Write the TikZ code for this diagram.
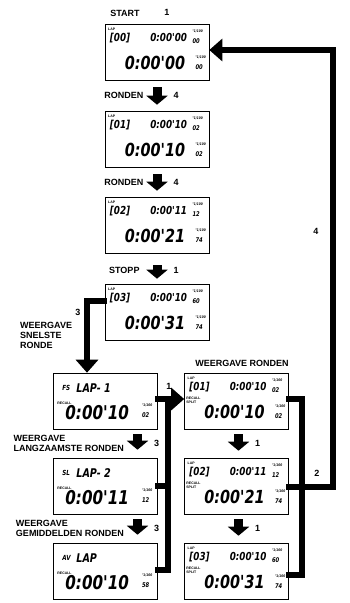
\documentclass[tikz,border=0pt]{standalone}
\usepackage{fontspec}
\setmainfont{Liberation Sans}
\newfontfamily\lcdfont{DejaVu Sans}[FakeStretch=0.8]
\usepackage{tikz}
\usetikzlibrary{arrows.meta,calc}

% hundredths: "1/100 over two digits
\newcommand{\hund}[1]{\shortstack[l]{\fontsize{3.5}{3.5}\selectfont "1/100\\[2pt]\fontsize{6.5}{6.5}\selectfont #1}}

% lap display: name, centre, lap, small time, small hund, big time, big hund, extra
\newcommand{\lapdisplay}[8]{%
\node[lcd] (#1) at #2 {};
\node[tiny] (#1-lap) at ([xshift=7pt,yshift=-6pt]#1.north west) {LAP};
\node[lcdsmall,anchor=west] (#1-no) at ([xshift=5pt,yshift=-14pt]#1.north west) {[#3]};
\node[lcdsmall,anchor=east] (#1-time) at ([xshift=-22pt,yshift=-14pt]#1.north east) {#4};
\node[anchor=west,inner sep=0pt] (#1-hund) at ([xshift=-17pt,yshift=-13pt]#1.north east) {\lcdfont\bfseries\itshape\hund{#5}};
#8
\node[lcdbig,anchor=east] (#1-big) at ([xshift=-24pt,yshift=-39pt]#1.north east) {#6};
\node[anchor=west,inner sep=0pt] (#1-bhund) at ([xshift=-14pt,yshift=-39pt]#1.north east) {\lcdfont\bfseries\itshape\hund{#7}};
}

% memory display: name, centre, code, lap text, big time, big hund
\newcommand{\memdisplay}[6]{%
\node[lcd] (#1) at #2 {};
\node[lcdfont=7,anchor=west] (#1-code) at ([xshift=9pt,yshift=-15pt]#1.north west) {#3};
\node[lcdfont=12,anchor=west] (#1-lap) at ([xshift=23pt,yshift=-15pt]#1.north west) {#4};
\node[tiny,anchor=west] (#1-rc) at ([xshift=4pt,yshift=-31pt]#1.north west) {RECALL};
\node[lcdfont=19,anchor=west] (#1-big) at ([xshift=12pt,yshift=-40pt]#1.north west) {#5};
\node[anchor=west,inner sep=0pt] (#1-bhund) at ([xshift=-16pt,yshift=-38pt]#1.north east) {\lcdfont\bfseries\itshape\hund{#6}};
}

\begin{document}
\begin{tikzpicture}[x=1pt,y=-1pt,
  lcd/.style={draw,line width=0.6pt,minimum width=104pt,minimum height=56pt,inner sep=0pt},
  lcdfont/.style={inner sep=0pt,font=\lcdfont\bfseries\itshape\fontsize{#1}{#1}\selectfont},
  lcdsmall/.style={lcdfont=11},
  lcdbig/.style={lcdfont=18},
  tiny/.style={inner sep=0pt,font=\bfseries\fontsize{3.5}{3.5}\selectfont},
  lbl/.style={inner sep=0pt,font=\bfseries\fontsize{9}{10}\selectfont,align=left},
  blockarrow/.style={line width=9pt,-{Triangle[length=9pt,width=21pt]},shorten <=7pt,shorten >=6pt},
  fat/.style={line width=5.5pt,line cap=rect},
  fatarrow/.style={line width=5.5pt,-{Triangle[length=13pt,width=22pt]}}]
\useasboundingbox (0,0) rectangle (350,603);

% left column
\lapdisplay{m0}{(157,52)}{00}{0:00'00}{00}{0:00'00}{00}{}
\lapdisplay{m1}{(157,139)}{01}{0:00'10}{02}{0:00'10}{02}{}
\lapdisplay{m2}{(157,225)}{02}{0:00'11}{12}{0:00'21}{74}{}
\lapdisplay{m3}{(157,312)}{03}{0:00'10}{60}{0:00'31}{74}{}

\node[lbl] (start) at (125,13) {START};
\node[lbl] (start-n) at (167,12) {1};

\draw[blockarrow] (m0.south) -- node[lbl,left=9pt] (t1) {RONDEN} node[lbl,right=12pt] (n1) {4} (m1.north);
\draw[blockarrow] (m1.south) -- node[lbl,left=9pt] (t2) {RONDEN} node[lbl,right=12pt] (n2) {4} (m2.north);
\draw[blockarrow,shorten <=12pt,shorten >=5pt] (m2.south) -- node[lbl,left=13pt,yshift=-2pt] (t3) {STOPP} node[lbl,right=12pt,yshift=-2pt] (n3) {1} (m3.north);

% memory displays
\memdisplay{f1}{(105.5,401)}{FS}{LAP- 1}{0:00'10}{02}
\memdisplay{f2}{(105.5,486)}{SL}{LAP- 2}{0:00'11}{12}
\memdisplay{f3}{(105.5,571)}{AV}{LAP}{0:00'10}{58}

\coordinate (b1) at (87,301);
\draw[fat] (m3.west |- b1) -- (b1) -- ++(0,50);
\draw[fatarrow] (87,345) -- (f1.north -| b1);
\node[lbl] (n4) at (78,312) {3};
\node[lbl,anchor=north west] (t4) at (20,322) {WEERGAVE\\SNELSTE\\RONDE};

\draw[blockarrow,shorten <=5pt,shorten >=8pt] ([xshift=32pt]f1.south) -- node[lbl,left=9pt,align=left] (t5) {WEERGAVE\\LANGZAAMSTE RONDEN} node[lbl,right=12pt] (n5) {3} ([xshift=32pt]f2.north);
\draw[blockarrow,shorten <=5pt,shorten >=8pt] ([xshift=32pt]f2.south) -- node[lbl,left=9pt,align=left] (t6) {WEERGAVE\\GEMIDDELDEN RONDEN} node[lbl,right=12pt] (n6) {3} ([xshift=32pt]f3.north);

% right column
\lapdisplay{r1}{(236.5,401)}{01}{0:00'10}{02}{0:00'10}{02}{\node[tiny,anchor=west,align=left] (r1-rs) at ([xshift=2pt,yshift=-28pt]r1.north west) {RECALL\\[0.5pt]SPLIT};}
\lapdisplay{r2}{(236.5,486)}{02}{0:00'11}{12}{0:00'21}{74}{\node[tiny,anchor=west,align=left] (r2-rs) at ([xshift=2pt,yshift=-28pt]r2.north west) {RECALL\\[0.5pt]SPLIT};}
\lapdisplay{r3}{(236.5,571)}{03}{0:00'10}{60}{0:00'31}{74}{\node[tiny,anchor=west,align=left] (r3-rs) at ([xshift=2pt,yshift=-28pt]r3.north west) {RECALL\\[0.5pt]SPLIT};}
\node[lbl] (t7) at (242,363) {WEERGAVE RONDEN};

\draw[blockarrow,shorten <=5pt,shorten >=7pt] ([xshift=2pt]r1.south) -- node[lbl,right=12pt] (n7) {1} ([xshift=2pt]r2.north);
\draw[blockarrow,shorten <=5pt,shorten >=7pt] ([xshift=2pt]r2.south) -- node[lbl,right=12pt] (n8) {1} ([xshift=2pt]r3.north);

% memory to laps
\coordinate (c1) at (168,399);
\coordinate (c1b) at (168,570);
\draw[fat] (f1.east |- c1) -- (c1) -- (c1b) -- (f3.east |- c1b);
\draw[fat] (f2.east) -- (c1 |- f2.east);
\draw[fatarrow] (c1) -- (r1.west |- c1);
\node[lbl] (n9) at (169,386) {1};

% laps back to start
\coordinate (c2) at (302,399);
\coordinate (c2b) at (302,575);
\coordinate (c3) at (333,50);
\coordinate (c4) at (333,487);
\draw[fat] (r1.east |- c2) -- (c2) -- (c2b) -- (r3.east |- c2b);
\draw[fat] (r2.east |- c4) -- (c4) -- (c3);
\draw[fatarrow] (c3) -- (m0.east |- c3);
\node[lbl] (n10) at (317,473) {2};
\node[lbl] (n11) at (316,231) {4};
\end{tikzpicture}
\end{document}
